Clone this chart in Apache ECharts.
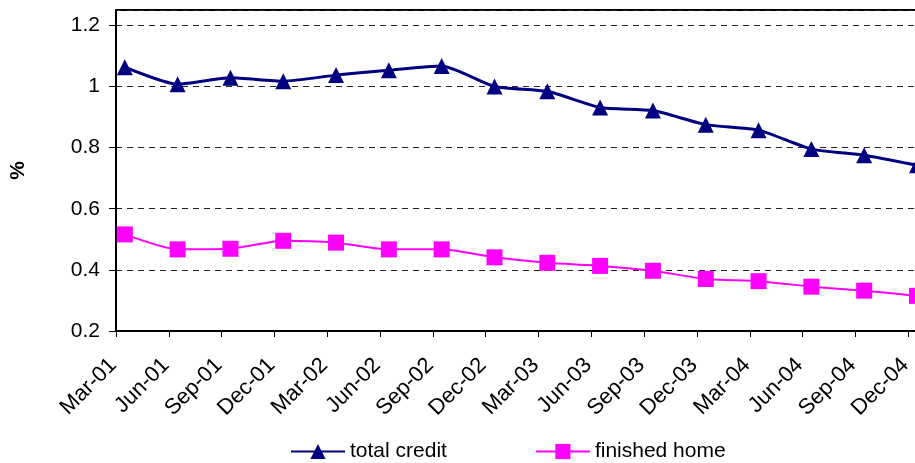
<!DOCTYPE html>
<html>
<head>
<meta charset="utf-8">
<script src="https://cdn.jsdelivr.net/npm/echarts@6/dist/echarts.min.js"></script>
<style>
html,body{margin:0;padding:0;background:#fff;}
#c{width:915px;height:463px;}
</style>
</head>
<body>
<div id="c"></div>
<script>
// Quarter-end categories (monthly date axis, one point per quarter)
const categories = ['Mar-01','Jun-01','Sep-01','Dec-01','Mar-02','Jun-02','Sep-02','Dec-02',
                    'Mar-03','Jun-03','Sep-03','Dec-03','Mar-04','Jun-04','Sep-04','Dec-04'];
const totalCredit = [1.063,1.007,1.028,1.017,1.037,1.053,1.067,1.000,
                     0.984,0.931,0.921,0.875,0.857,0.795,0.775,0.742];
const finishedHome = [0.516,0.467,0.469,0.495,0.489,0.467,0.467,0.441,
                      0.423,0.413,0.397,0.370,0.363,0.345,0.332,0.315];
const yTicks = [0.2,0.4,0.6,0.8,1.0,1.2];

// month index of each quarter on the date axis (3 months per category), point centred in its month slot
const monthOf = i => i * 3 + 0.5;
const toPoints = arr => arr.map((v, i) => [monthOf(i), v]);

const FONT = 'Liberation Sans, Arial, sans-serif';
const chart = echarts.init(document.getElementById('c'), null, {renderer: 'canvas'});
chart.setOption({
  animation: false,
  backgroundColor: '#fff',
  textStyle: {fontFamily: FONT},
  grid: {left: 116, top: 10, width: 845, height: 321, outerBoundsMode: 'none', containLabel: false,
         show: true, borderColor: '#000', borderWidth: 2, backgroundColor: 'transparent'},
  xAxis: {
    type: 'value', min: 0, max: categories.length * 3, interval: 3,
    axisLine: {show: true, lineStyle: {color: '#000', width: 2}},
    axisTick: {show: true, length: 6, lineStyle: {color: '#000', width: 1}},
    splitLine: {show: false},
    axisLabel: {
      rotate: 45, margin: 28, fontSize: 22, color: '#000', fontFamily: FONT, padding: [0, 4, 0, 0],
      formatter: v => { const k = Math.round(v / 3); return categories[k] !== undefined && Math.abs(v - k*3) < 1e-6 ? categories[k] : ''; }
    }
  },
  yAxis: {
    type: 'value', min: 0.2, max: 1.25, interval: 0.2,
    name: '%', nameLocation: 'middle', nameRotate: 90, nameGap: 87,
    nameTextStyle: {fontSize: 21, fontWeight: 'bold', color: '#000', fontFamily: FONT},
    axisLine: {show: true, lineStyle: {color: '#000', width: 2}},
    axisTick: {show: true, length: 7, lineStyle: {color: '#000', width: 1}},
    splitLine: {show: true, lineStyle: {color: '#222', width: 1, type: [6, 5]}},
    axisLabel: {
      margin: 16, fontSize: 21, color: '#000', fontFamily: FONT, showMaxLabel: false,
      formatter: v => { const t = yTicks.find(x => Math.abs(x - v) < 1e-6); return t === undefined ? '' : (t === 1 ? '1' : String(t)); }
    }
  },
  legend: {
    left: 290, top: 441, padding: 0, itemWidth: 54, itemHeight: 19, itemGap: 88,
    textStyle: {fontSize: 21, color: '#000', fontFamily: FONT, padding: [0,0,0,0]},
    data: ['total credit', 'finished home']
  },
  series: [
    {
      name: 'total credit', type: 'line', data: toPoints(totalCredit), smooth: 0.2,
      symbol: 'triangle', symbolSize: [16, 16],
      lineStyle: {color: '#000080', width: 3},
      itemStyle: {color: '#000080'}
    },
    {
      name: 'finished home', type: 'line', data: toPoints(finishedHome), smooth: 0.2,
      symbol: 'rect', symbolSize: 16,
      lineStyle: {color: '#FF00FF', width: 2},
      itemStyle: {color: '#FF00FF'}
    }
  ]
});
</script>
</body>
</html>
